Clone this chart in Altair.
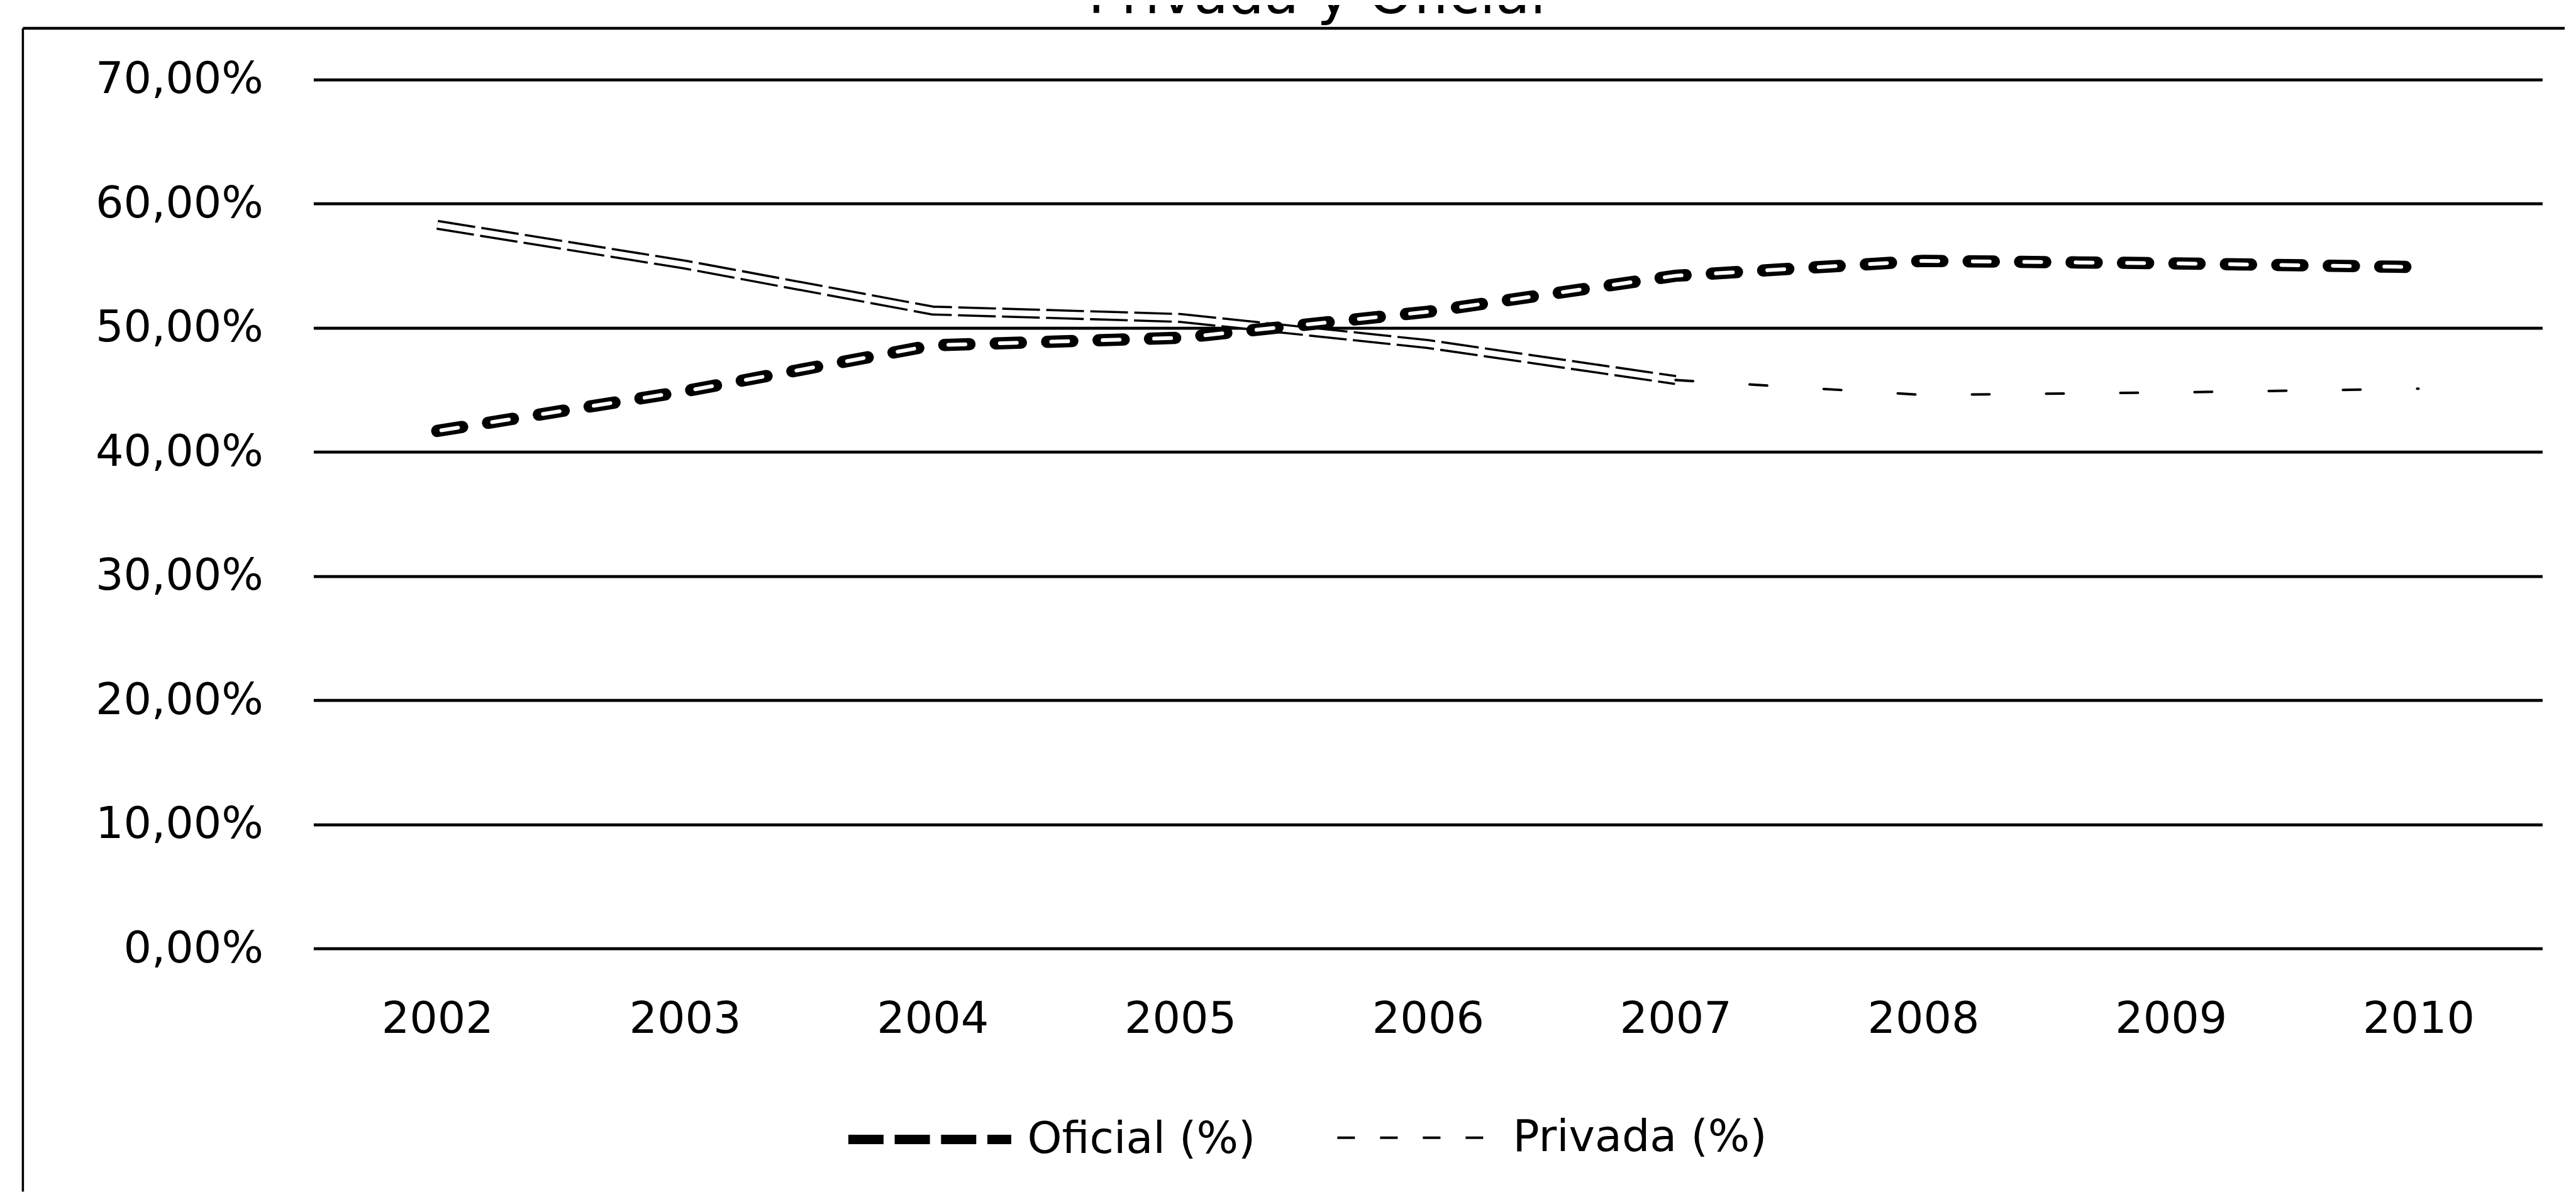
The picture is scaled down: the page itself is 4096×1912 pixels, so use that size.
import altair as alt
import pandas as pd

# ---- data ----
anios = ["2002", "2003", "2004", "2005", "2006", "2007", "2008", "2009", "2010"]
oficial = [41.7, 44.9, 48.6, 49.2, 51.3, 54.2, 55.4, 55.2, 54.9]
privada = [58.3, 55.1, 51.4, 50.8, 48.7, 45.8, 44.6, 44.8, 45.1]
series = ["Oficial (%)", "Privada (%)"]
y_ticks = [0.0, 0.1, 0.2, 0.3, 0.4, 0.5, 0.6, 0.7]
titulo = "Privada y Oficial"

rows = []
for a, o, p in zip(anios, oficial, privada):
    rows.append({"anio": a, "serie": series[0], "valor": o / 100})
    rows.append({"anio": a, "serie": series[1], "valor": p / 100})
df = pd.DataFrame(rows)

FONT = "DejaVu Sans"
W, H = 3544, 1382.4

x_enc = alt.X("anio:O", sort=anios, title=None,
              scale=alt.Scale(type="point", padding=0.5),
              axis=alt.Axis(labelAngle=0, domain=False, ticks=False, tickSize=0,
                            grid=False, labelPadding=78, labelFont=FONT,
                            labelFontSize=70, labelColor="black", labelLimit=0))
y_enc = alt.Y("valor:Q", title=None,
              scale=alt.Scale(domain=[0, 0.7], nice=False, zero=True),
              axis=alt.Axis(values=y_ticks, domain=False, ticks=False, tickSize=0,
                            grid=True, gridColor="black", gridWidth=4.9, gridOpacity=1,
                            labelPadding=80, labelFont=FONT, labelFontSize=70,
                            labelColor="black", labelLimit=0,
                            labelExpr="replace(format(datum.value, '.2%'), '.', ',')"))

leg = alt.Legend(title=None, orient="none", legendX=843, legendY=1549,
                 direction="horizontal", symbolType="stroke", symbolSize=67081,
                 labelFont=FONT, labelFontSize=70, labelColor="black",
                 labelOffset=18, columnPadding=122, padding=0, labelLimit=0,
                 symbolStrokeColor="black", symbolOpacity=1)
dash_scale = alt.Scale(domain=series, range=[[56, 17.7], [28, 40]])
width_scale = alt.Scale(domain=series, range=[15, 4])

base = alt.Chart(df)
is_of = "datum.serie == 'Oficial (%)'"
is_pr_early = "datum.serie == 'Privada (%)' && toNumber(datum.anio) <= 2007"
is_pr_late = "datum.serie == 'Privada (%)' && toNumber(datum.anio) >= 2007"

# invisible layer that only carries the legend
legend_layer = base.mark_line(opacity=0).encode(
    x=x_enc, y=y_enc,
    strokeDash=alt.StrokeDash("serie:N", scale=dash_scale, legend=leg),
    strokeWidth=alt.StrokeWidth("serie:N", scale=width_scale, legend=leg))

priv_black = base.transform_filter(is_pr_early).mark_line(
    color="black", strokeWidth=16, strokeDash=[60, 10]).encode(x=x_enc, y=y_enc)
priv_white = base.transform_filter(is_pr_early).mark_line(
    color="white", strokeWidth=9).encode(x=x_enc, y=y_enc)
priv_late = base.transform_filter(is_pr_late).mark_line(
    color="black", strokeCap="round", strokeWidth=4, strokeDash=[28, 90]).encode(
    x=x_enc, y=y_enc)
of_black = base.transform_filter(is_of).mark_line(
    color="black", strokeCap="round", strokeWidth=19.5, strokeDash=[40, 41.8]).encode(
    x=x_enc, y=y_enc)
of_white = base.transform_filter(is_of).mark_line(
    color="white", strokeWidth=6, strokeDash=[27, 54.8], strokeDashOffset=75.3,
    strokeCap="round").encode(x=x_enc, y=y_enc)

one = pd.DataFrame({"t": [titulo]})
title_txt = alt.Chart(one).mark_text(
    font=FONT, fontSize=90, color="black", align="center",
    baseline="alphabetic").encode(x=alt.value(1595.6), y=alt.value(-105.9), text="t:N")
top_border = alt.Chart(one).mark_rule(color="black", strokeWidth=4.5).encode(
    x=alt.value(-462), x2=alt.value(3580), y=alt.value(-81.6))
left_border = alt.Chart(one).mark_rule(color="black", strokeWidth=3.5).encode(
    x=alt.value(-462), y=alt.value(-81.6), y2=alt.value(1769))

chart = alt.layer(
    legend_layer, priv_black, priv_white, priv_late, of_black, of_white,
    title_txt, top_border, left_border
).properties(
    width=W, height=H,
    background="white",
    autosize=alt.AutoSizeParams(type="none"),
    padding={"left": 490.4, "top": 118.6, "right": 35.6, "bottom": 387},
).configure_view(stroke=None)

chart.save("out.html", embed_options={"renderer": "svg", "actions": False})
